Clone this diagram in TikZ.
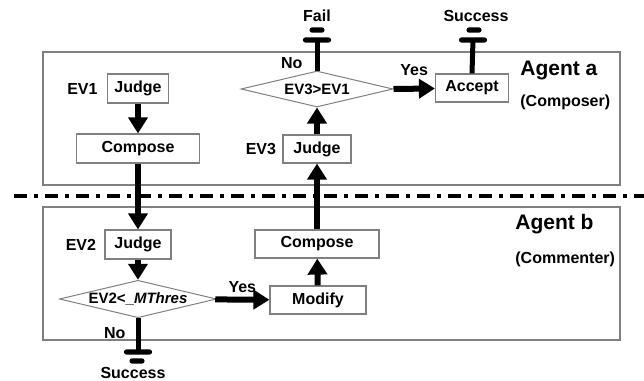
\documentclass[tikz,border=0pt]{standalone}
\usepackage{fontspec}
\setmainfont{Liberation Sans}
\usepackage{tikz}
\usetikzlibrary{shapes.geometric,arrows.meta,positioning}

\begin{document}
\begin{tikzpicture}[x=0.5pt,y=-0.5pt,>={Triangle[width=9.5pt,length=8pt]},
	font=\fontsize{8}{9.6}\selectfont\bfseries,
	agent/.style={draw=gray,line width=0.7pt,minimum width=288.5pt,minimum height=66.5pt,inner sep=0pt},
	box/.style={draw=gray,line width=0.6pt,fill=white,minimum height=14.5pt,inner sep=0pt},
	test/.style={diamond,aspect=4,draw=gray,line width=0.5pt,fill=white,inner sep=0pt,font=\fontsize{7.5}{9}\selectfont\bfseries},
	flow/.style={->,line width=3pt},
	stem/.style={line width=2.5pt},
	bar/.style={fill,rounded corners=1.2pt,minimum width=14pt,minimum height=2.6pt,inner sep=0pt},
	stub/.style={bar,minimum width=7.5pt},
	lbl/.style={inner sep=0pt},
	agenttitle/.style={inner sep=0pt,anchor=west,font=\fontsize{10.5}{12}\selectfont\bfseries},
	agentrole/.style={inner sep=0pt,anchor=west}]
\useasboundingbox (0,0) rectangle (644,381);
\node[agent] (agentA) at (331.5,118.5) {};
\node[agent] (agentB) at (331.5,273.5) {};
\draw[line width=1.75pt,dash pattern=on 6.5pt off 3.5pt on 2pt off 3.5pt] (14,196) -- (644,196);
\node[agenttitle] (nameA) at (520,70) {Agent a};
\node[agentrole] (roleA) at (520,102) {(Composer)};
\node[agenttitle] (nameB) at (515,224) {Agent b};
\node[agentrole] (roleB) at (515,259) {(Commenter)};
\node[box,minimum width=30.5pt] (judgeA) at (138,88.5) {Judge};
\node[box,minimum width=61.5pt] (composeA) at (138,148.5) {Compose};
\node[box,minimum width=33pt] (judgeB) at (138,244.5) {Judge};
\node[test,minimum width=78.5pt,minimum height=18.5pt] (testB) at (138,299) {EV2<\_\textit{MThres}};
\node[box,minimum width=48pt,minimum height=14pt] (modify) at (318,300) {Modify};
\node[box,minimum width=62pt,minimum height=14pt] (composeB) at (317,244) {Compose};
\node[box,minimum width=34pt,minimum height=14pt] (judgeC) at (317,149) {Judge};
\node[test,minimum width=76pt,minimum height=18pt] (testA) at (317,89) {EV3>EV1};
\node[box,minimum width=36.5pt,minimum height=14pt] (accept) at (472,88) {Accept};
\node[lbl,left=4.5pt of judgeA] (ev1) {EV1};
\node[lbl,left=4pt of judgeB] (ev2) {EV2};
\node[lbl,left=3pt of judgeC] (ev3) {EV3};
\node[bar] (failbar) at (317,40) {};
\node[stub] (failstub) at (317,30) {};
\node[lbl] (fail) at (317,16) {Fail};
\node[bar] (okbarA) at (473,40) {};
\node[stub] (okstubA) at (474,30) {};
\node[lbl] (okA) at (476,16) {Success};
\node[bar] (okbarB) at (138,352) {};
\node[stub] (okstubB) at (137,361) {};
\node[lbl] (okB) at (133,373) {Success};
\draw[flow] (judgeA) -- (composeA);
\draw[flow] (composeA) -- (judgeB);
\draw[flow] (judgeB) -- (testB);
\draw[flow] (testB) -- node[lbl,above=2pt] (yesB) {Yes} (modify);
\draw[stem] (testB.south) -- node[lbl,left=5pt,pos=0.45] (noB) {No} (okbarB.center);
\draw[flow] (modify) -- (composeB);
\draw[flow] (composeB) -- (judgeC);
\draw[flow] (judgeC) -- (testA);
\draw[flow] (testA.east) -- node[lbl,above=5pt] (yesA) {Yes} (accept);
\draw[stem] (testA.north) -- node[lbl,left=6pt,pos=0.25] (noA) {No} (failbar.center);
\draw[stem] (accept.north) -- (okbarA.center);
\end{tikzpicture}
\end{document}
